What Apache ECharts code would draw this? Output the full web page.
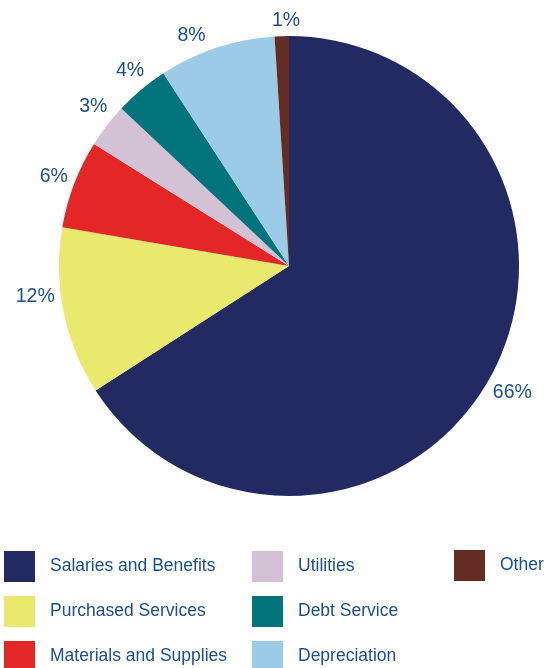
<!DOCTYPE html>
<html>
<head>
<meta charset="utf-8">
<script src="https://cdn.jsdelivr.net/npm/echarts@6/dist/echarts.min.js"></script>
<style>
  html, body { margin: 0; padding: 0; background: #ffffff; }
  #chart { width: 546px; height: 668px; }
</style>
</head>
<body>
<div id="chart"></div>
<script>
// ---- Data ----
const categories = [
  'Salaries and Benefits',
  'Purchased Services',
  'Materials and Supplies',
  'Utilities',
  'Debt Service',
  'Depreciation',
  'Other'
];
const values = [65.9, 11.8, 6.2, 3.1, 3.8, 8.2, 1.0];
const legendColumn1 = ['Salaries and Benefits', 'Purchased Services', 'Materials and Supplies'];
const legendColumn2 = ['Utilities', 'Debt Service', 'Depreciation'];
const legendColumn3 = ['Other'];

// ---- Style ----
const colors = ['#232a62', '#e9e96d', '#e32726', '#d3c1d6', '#03747b', '#9ccbe8', '#652c23'];
const textColor = '#1c4f8e';
const fontFamily = '"Liberation Sans", Arial, Helvetica, sans-serif';
const CX = 289, CY = 266, R = 230, LABEL_GAP = 5;
// small angular nudges (degrees) applied to label placement, as in the reference layout
const labelAngleShift = [1, 4.6, 0, 1.5, 0.8, -4.6, 1.1];

const total = values.reduce((a, b) => a + b, 0);
const cumulative = [];
values.reduce((acc, v, i) => { cumulative[i] = acc; return acc + v; }, 0);

const chart = echarts.init(document.getElementById('chart'), null, { renderer: 'canvas' });

function legendAt(left, top, names) {
  return {
    data: names,
    orient: 'vertical',
    left: left,
    top: top,
    width: 200,
    height: 140,
    padding: 0,
    itemWidth: 31,
    itemHeight: 31,
    itemGap: 14,
    icon: 'rect',
    selectedMode: false,
    textStyle: {
      color: textColor,
      fontSize: 17.5,
      fontFamily: fontFamily,
      padding: [2, 0, 0, 10]
    }
  };
}

chart.setOption({
  animation: false,
  backgroundColor: '#ffffff',
  color: colors,
  legend: [
    legendAt(4, 551, legendColumn1),
    legendAt(252, 551, legendColumn2),
    legendAt(454, 550, legendColumn3)
  ],
  series: [{
    type: 'pie',
    center: [CX, CY],
    radius: R,
    startAngle: 90,
    clockwise: true,
    avoidLabelOverlap: false,
    percentPrecision: 0,
    data: categories.map((name, i) => ({ name: name, value: values[i] })),
    itemStyle: { borderWidth: 0 },
    label: {
      show: true,
      position: 'outside',
      formatter: '{d}%',
      color: textColor,
      fontSize: 19.5,
      fontFamily: fontFamily
    },
    labelLine: { show: false, length: 5, length2: 0 },
    emphasis: { disabled: true },
    labelLayout: function (params) {
      const i = params.dataIndex;
      const mid = (cumulative[i] + values[i] / 2) / total * Math.PI * 2 + labelAngleShift[i] * Math.PI / 180;
      const dx = Math.sin(mid), dy = -Math.cos(mid);
      const w = params.labelRect.width, h = params.labelRect.height;
      const ext = Math.abs(dx) * w / 2 + Math.abs(dy) * h / 2;
      const d = R + ext + LABEL_GAP;
      return { x: CX + dx * d, y: CY + dy * d, align: 'center', verticalAlign: 'middle' };
    }
  }]
});
</script>
</body>
</html>
